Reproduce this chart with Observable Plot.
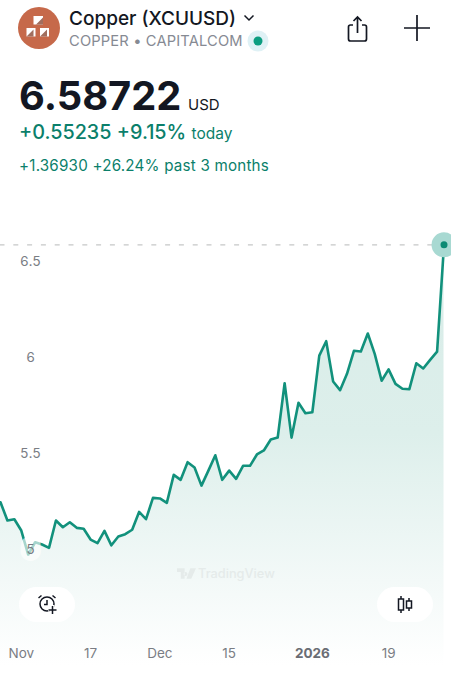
<!DOCTYPE html>
<html><head><meta charset="utf-8">
<script src="https://cdn.jsdelivr.net/npm/d3@7"></script>
<script src="https://cdn.jsdelivr.net/npm/@observablehq/plot@0.6"></script>
<style>
html,body{margin:0;padding:0;background:#fff;overflow:hidden;width:451px;height:680px;font-family:Inter,"Noto Sans",sans-serif}
#page{position:relative;width:451px;height:680px}
#head{position:relative;height:190px}
#head div,#over div{position:absolute;white-space:nowrap;line-height:1}
#head svg,#over svg{position:absolute}
#chart svg{display:block}
</style></head><body>
<div id="page">
<div id="head">
  <svg style="left:18px;top:7px" width="42" height="42" viewBox="0 0 42 42"><circle cx="21" cy="21" r="21" fill="#c6694a"/>
    <path d="M15.500 9h9.500v8.500h-9.500zM8.500 21h9v8.500h-9zM22 21h9v8.500h-9z" fill="#fff"/>
    <path d="M18 17.500l7-7v7zM8.500 29.500l7-7v7zM22 29.500l7-7v7z" fill="#8a4a36" opacity=".8"/></svg>
  <div style="left:69px;top:9px;font-size:19px;font-weight:500;color:#131722">Copper (XCUUSD)</div>
  <svg style="left:243px;top:14px" width="12" height="8" viewBox="0 0 12 8"><path d="M1.500 1.500L6 6l4.500-4.500" fill="none" stroke="#131722" stroke-width="1.500"/></svg>
  <div style="left:69px;top:34px;font-size:14.700px;letter-spacing:.15px;color:#868a93">COPPER &#8226; CAPITALCOM</div>
  <svg style="left:247px;top:30px" width="22" height="22" viewBox="0 0 22 22"><circle cx="11" cy="11" r="10.500" fill="#dff1f5"/><circle cx="11" cy="11" r="4.500" fill="#0d9d80"/></svg>
  <svg style="left:345px;top:14px" width="26" height="30" viewBox="0 0 26 30"><path d="M8 11H5.500a2 2 0 0 0-2 2v12a2 2 0 0 0 2 2h14a2 2 0 0 0 2-2V13a2 2 0 0 0-2-2H17M12.500 19V3M8.500 7l4-4 4 4" fill="none" stroke="#131722" stroke-width="1.700"/></svg>
  <svg style="left:404px;top:15px" width="26" height="26" viewBox="0 0 26 26"><path d="M13 0v26M0 13h26" stroke="#131722" stroke-width="1.700"/></svg>
  <div style="left:19px;top:76px;font-size:39.800px;font-weight:700;color:#131722">6.58722</div>
  <div style="left:188px;top:97px;font-size:15px;color:#131722">USD</div>
  <div style="left:19px;top:123px;font-size:19.800px;font-weight:500;color:#0b7f6b">+0.55235 +9.15% <span style="font-size:15.500px;font-weight:400">today</span></div>
  <div style="left:19px;top:158px;font-size:15.200px;letter-spacing:.2px;color:#0b7f6b">+1.36930 +26.24% past 3 months</div>
</div>
<div id="chart"></div>
<div id="over">
  <svg style="left:177px;top:568px" width="19" height="12" viewBox="0 0 20 12"><path d="M0 0h8v11H4V4H0zM9 4a2 2 0 1 0 .01 0zM14 0h6l-5 11h-5z" fill="#e5ebea"/></svg>
  <div style="left:198px;top:568px;font-size:12.800px;font-weight:500;color:#e5ebea">TradingView</div>
  <div style="left:19px;top:587px;width:56px;height:35px;border-radius:18px;background:#fff"></div>
  <svg style="left:37px;top:594px" width="21" height="21" viewBox="0 0 21 21"><circle cx="10" cy="10" r="7" fill="none" stroke="#131722" stroke-width="1.500"/><path d="M10 6v4.500H7M1.500 4l3-2.500M18.500 4l-3-2.500" fill="none" stroke="#131722" stroke-width="1.500"/><path d="M15.500 11v9M11 15.500h9" stroke="#fff" stroke-width="4"/><path d="M15.500 12v8M11.500 16h8" stroke="#131722" stroke-width="1.500"/></svg>
  <div style="left:377px;top:587px;width:56px;height:35px;border-radius:18px;background:#fff"></div>
  <svg style="left:396px;top:596px" width="18" height="17" viewBox="0 0 18 17"><path d="M5 0v17M13 2v13" stroke="#131722" stroke-width="1.500"/><rect x="2.500" y="3" width="5" height="11" fill="#fff" stroke="#131722" stroke-width="1.500"/><rect x="10.500" y="5" width="5" height="7" fill="#fff" stroke="#131722" stroke-width="1.500"/></svg>
</div>
</div>
<script>
const closes = [5.246,5.151,5.158,5.099,4.974,5.038,5.026,5.009,5.151,5.116,5.142,5.113,5.108,5.052,5.033,5.097,5.022,5.068,5.080,5.103,5.196,5.158,5.269,5.266,5.243,5.389,5.363,5.455,5.427,5.333,5.411,5.491,5.363,5.411,5.368,5.436,5.436,5.495,5.516,5.573,5.583,5.866,5.583,5.764,5.710,5.715,6.010,6.085,5.875,5.830,5.915,6.035,6.031,6.125,6.019,5.879,5.938,5.863,5.837,5.835,5.970,5.943,5.988,6.031,6.587];
const priceTicks = [5,5.5,6,6.5];
const sessionTicks = [3,13,23,33,56];
const sessionLabels = ["Nov","17","Dec","15","19"];
const yearTick = [45];
const yearLabel = ["2026"];
const floorPrice = 4.396;

const series = closes.map((c,i)=>({i,c}));
const last = series[series.length-1];
const ticks = sessionTicks.map((i,k)=>({i,label:sessionLabels[k]}));
const years = yearTick.map((i,k)=>({i,label:yearLabel[k]}));

const plot = Plot.plot({
  width:451,height:490,margin:0,
  style:{background:"transparent",fontFamily:"Inter, sans-serif",overflow:"hidden"},
  x:{domain:[0,65.08],range:[0,451],axis:null},
  y:{domain:[4.318,6.8698],range:[490,0],axis:null},
  marks:[
    Plot.areaY(series,{x:"i",y1:()=>floorPrice,y2:"c",fill:"url(#copperFade)"}),
    Plot.ruleY([last.c],{x1:0,x2:last.i,stroke:"#c6c8c8",strokeWidth:1.300,strokeDasharray:"5,8.800",strokeDashoffset:0.500}),
    Plot.lineY(series,{x:"i",y:"c",stroke:"#12917c",strokeWidth:2.600,curve:"linear"}),
    Plot.axisY(priceTicks,{anchor:"left",tickSize:0,tickPadding:0,dx:30,textAnchor:"middle",tickFormat:d=>String(d),color:"#7a7d84",fontSize:13.500,textStroke:"#fff",textStrokeOpacity:0.650,textStrokeWidth:14,label:null}),
    Plot.dot([last],{x:"i",y:"c",r:12.500,fill:"#a8d9d2"}),
    Plot.dot([last],{x:"i",y:"c",r:3.500,fill:"#0d8a74"}),
    Plot.text(ticks,{x:"i",text:"label",frameAnchor:"bottom",dy:-23,fill:"#7a7d84",fontSize:13.500}),
    Plot.text(years,{x:"i",text:"label",frameAnchor:"bottom",dy:-23,fill:"#6a6d74",fontSize:13.500,fontWeight:700})
  ]
});
plot.insertAdjacentHTML("afterbegin",'<defs><linearGradient id="copperFade" x1="0" y1="0" x2="0" y2="1"><stop offset="0" stop-color="#d8ece8"/><stop offset=".45" stop-color="#ddefeb"/><stop offset=".8" stop-color="#f3f9f8"/><stop offset="1" stop-color="#ffffff"/></linearGradient></defs>');
document.getElementById("chart").appendChild(plot);
</script>
</body></html>
